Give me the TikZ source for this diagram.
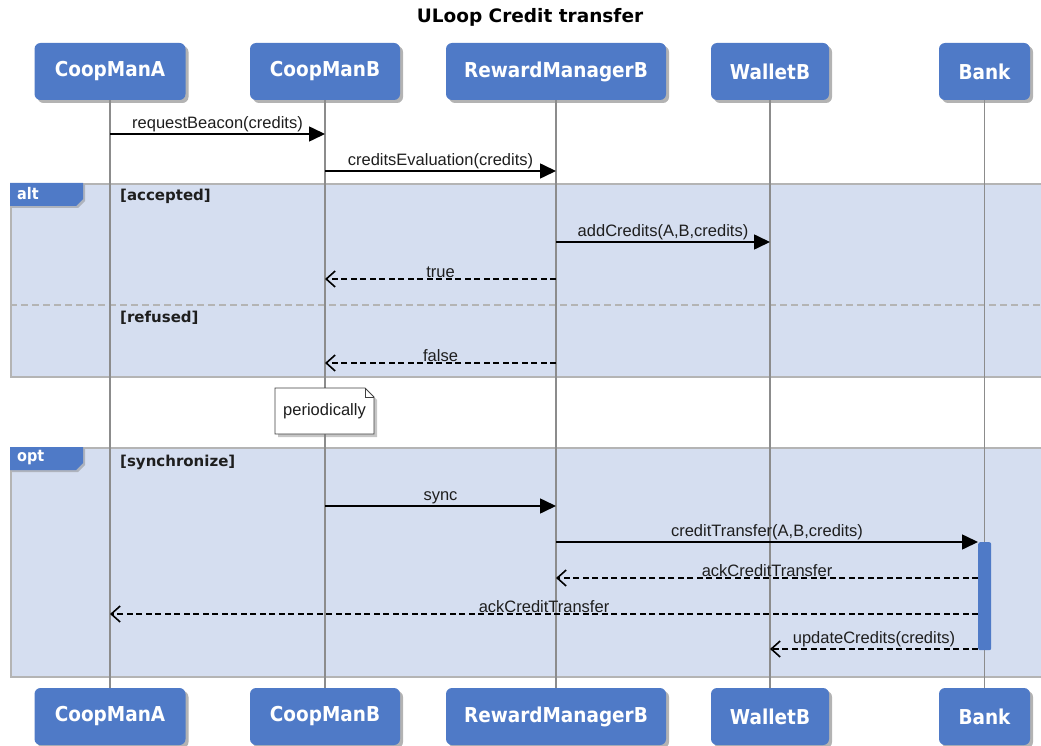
\documentclass[tikz,border=0pt]{standalone}
\usepackage{fontspec}
\setmainfont{Liberation Sans}
\newfontfamily\boxfont{DejaVu Sans}
\newfontfamily\actorfont[FakeStretch=0.9]{DejaVu Sans}
\usetikzlibrary{arrows.meta,shadows,calc}

\definecolor{actorblue}{RGB}{79,122,199}
\definecolor{framefill}{RGB}{213,222,240}
\definecolor{framegray}{RGB}{180,180,180}
\definecolor{lifegray}{RGB}{140,140,140}
\definecolor{labeltext}{RGB}{30,30,30}

\tikzset{
  actor/.style={rectangle, rounded corners=6pt, fill=actorblue, text=white,
    minimum height=57pt, inner sep=0pt,
    font=\actorfont\bfseries\fontsize{20.5}{24}\selectfont,
    drop shadow={shadow xshift=3pt, shadow yshift=-3pt, opacity=0.6}},
  lifeline/.style={draw=lifegray, line width=1.6pt},
  fragment/.style={rectangle, fill=framefill, draw=framegray, line width=1.6pt,
    anchor=north west, inner sep=0pt},
  fragtag/.style={fill=actorblue, draw=none,
    drop shadow={shadow xshift=2pt, shadow yshift=-2pt, opacity=0.45}},
  tagtext/.style={anchor=west, text=white, inner sep=0pt,
    font=\actorfont\bfseries\fontsize{16}{18}\selectfont},
  guard/.style={anchor=west, text=labeltext, inner sep=0pt,
    font=\boxfont\bfseries\fontsize{15}{18}\selectfont},
  call/.style={draw=black, line width=1.6pt,
    -{Triangle[length=16pt,width=15pt]}},
  reply/.style={draw=black, line width=1.6pt, dash pattern=on 6pt off 3.5pt,
    -{Straight Barb[length=9pt,width=16pt,line width=1.6pt]}},
  msglabel/.style={midway, above, inner sep=0.8pt, text=labeltext,
    font=\fontsize{16.5}{19}\selectfont},
  activation/.style={rectangle, rounded corners=2pt, fill=actorblue,
    minimum width=13pt, inner sep=0pt, anchor=north west},
}

\begin{document}
\begin{tikzpicture}[x=1pt,y=-1pt]
\useasboundingbox (0,0) rectangle (1041,746);

% title
\node[font=\boxfont\bfseries\fontsize{18.5}{22}\selectfont] (title) at (530,17) {ULoop Credit transfer};

% combined fragments (background)
\node[fragment, minimum width=1040pt, minimum height=193pt] (alt) at (10,183) {};
\draw[framegray, line width=1.2pt, dash pattern=on 7pt off 4pt] (alt.west |- 0,305) coordinate (sepl) -- (alt.east |- 0,305) coordinate (sepr);
\node[fragment, minimum width=1040pt, minimum height=229pt] (opt) at (10,447) {};

% fragment tags
\path[fragtag] (10,183) -- (83,183) -- (83,199) -- (76,206) -- (10,206) -- cycle;
\node[tagtext] (alttag) at (17,194) {alt};
\node[guard] (g1) at (120,196) {[accepted]};
\node[guard] (g2) at (120,318) {[refused]};
\path[fragtag] (10,447) -- (83,447) -- (83,463) -- (76,470) -- (10,470) -- cycle;
\node[tagtext] (opttag) at (17,458) {opt};
\node[guard] (g3) at (120,462) {[synchronize]};

% participants, top and bottom
\node[actor, minimum width=151pt] (A)  at (110,71.5) {CoopManA};
\node[actor, minimum width=150pt] (B)  at (325,71.5) {CoopManB};
\node[actor, minimum width=220pt] (R)  at (556,71.5) {RewardManagerB};
\node[actor, minimum width=118pt] (W)  at (770,71.5) {WalletB};
\node[actor, minimum width=91pt]  (K)  at (984.5,71.5) {Bank};
\node[actor, minimum width=151pt] (A2) at (110,716.5) {CoopManA};
\node[actor, minimum width=150pt] (B2) at (325,716.5) {CoopManB};
\node[actor, minimum width=220pt] (R2) at (556,716.5) {RewardManagerB};
\node[actor, minimum width=118pt] (W2) at (770,716.5) {WalletB};
\node[actor, minimum width=91pt]  (K2) at (984.5,716.5) {Bank};

% lifelines
\draw[lifeline] (A.south) -- (A2.north);
\draw[lifeline] (B.south) -- (B2.north);
\draw[lifeline] (R.south) -- (R2.north);
\draw[lifeline] (W.south) -- (W2.north);
\draw[lifeline] (K.south) -- (K2.north);

% activation of Bank
\node[activation, minimum height=108pt] (act) at (978,542) {};

% note with folded corner
\coordinate (note) at (324.5,411);
\coordinate (nnw) at (275,388); \coordinate (nne) at (374,388);
\coordinate (nsw) at (275,434); \coordinate (nse) at (374,434);
\filldraw[fill=white, draw=black!75, line width=0.8pt,
  drop shadow={shadow xshift=3pt, shadow yshift=-3pt, opacity=0.45}]
  (nnw) -- ($(nne)+(-9,0)$) -- ($(nne)+(0,9)$) -- (nse) -- (nsw) -- cycle;
\draw[draw=black!75, line width=0.8pt] ($(nne)+(-9,0)$) -- ($(nne)+(-9,9)$) -- ($(nne)+(0,9)$);
\node[font=\fontsize{16.5}{19}\selectfont, text=labeltext] (notetext) at (note) {periodically};

% message end points on the lifelines
\coordinate (a1) at (A.south |- 0,134);  \coordinate (b1) at (B.south |- 0,134);
\coordinate (b2) at (B.south |- 0,171);  \coordinate (r2) at (R.south |- 0,171);
\coordinate (r3) at (R.south |- 0,242);  \coordinate (w3) at (W.south |- 0,242);
\coordinate (r4) at (R.south |- 0,279);  \coordinate (b4) at (B.south |- 0,279);
\coordinate (r5) at (R.south |- 0,363);  \coordinate (b5) at (B.south |- 0,363);
\coordinate (b6) at (B.south |- 0,506);  \coordinate (r6) at (R.south |- 0,506);
\coordinate (r7) at (R.south |- 0,542);  \coordinate (k7) at (act.west |- 0,542);
\coordinate (k8) at (act.west |- 0,578); \coordinate (r8) at (R.south |- 0,578);
\coordinate (k9) at (act.west |- 0,614); \coordinate (a9) at (A.south |- 0,614);
\coordinate (k10) at (act.west |- 0,649); \coordinate (w10) at (W.south |- 0,649);

% messages
\draw[call]  (a1) -- node[msglabel] {requestBeacon(credits)} (b1);
\draw[call]  (b2) -- node[msglabel] {creditsEvaluation(credits)} (r2);
\draw[call]  (r3) -- node[msglabel] {addCredits(A,B,credits)} (w3);
\draw[reply] (r4) -- node[msglabel] {true} (b4);
\draw[reply] (r5) -- node[msglabel] {false} (b5);
\draw[call]  (b6) -- node[msglabel] {sync} (r6);
\draw[call]  (r7) -- node[msglabel] {creditTransfer(A,B,credits)} (k7);
\draw[reply] (k8) -- node[msglabel] {ackCreditTransfer} (r8);
\draw[reply] (k9) -- node[msglabel] {ackCreditTransfer} (a9);
\draw[reply] (k10) -- node[msglabel] {updateCredits(credits)} (w10);
\end{tikzpicture}
\end{document}
